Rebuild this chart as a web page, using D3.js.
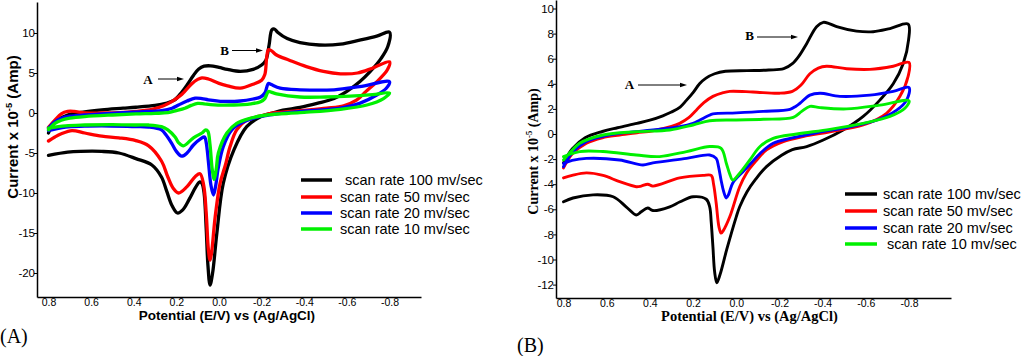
<!DOCTYPE html>
<html><head><meta charset="utf-8">
<script src="https://cdn.jsdelivr.net/npm/d3@7"></script>
<style>
html,body{margin:0;padding:0;background:#fff;}
svg{display:block;}
.sans{font-family:"Liberation Sans",Arial,sans-serif;}
.serif{font-family:"Liberation Serif","Times New Roman",serif;}
</style></head>
<body>
<svg id="chart" width="1028" height="356"></svg>
<script>
// ---------- data (potential E/V, current x1e-5 A) ----------
const xTicks = [0.8, 0.6, 0.4, 0.2, 0.0, -0.2, -0.4, -0.6, -0.8];
const yTicksA = [10, 5, 0, -5, -10, -15, -20];
const yTicksB = [10, 8, 6, 4, 2, 0, -2, -4, -6, -8, -10, -12];
const seriesNames = ["scan rate 100 mv/sec", "scan rate 50 mv/sec", "scan rate 20 mv/sec", "scan rate 10 mv/sec"];
const seriesColors = ["#000000", "#ff0000", "#0000ff", "#00f000"];

// Panel (A)
const aBlack = [[0.80,-2.5],[0.77,-1.1],[0.71,-0.25],[0.63,0.15],[0.55,0.4],[0.45,0.6],[0.39,0.72],[0.30,0.95],[0.25,1.2],[0.21,1.6],[0.175,2.6],[0.145,3.7],[0.12,4.7],[0.095,5.5],[0.07,5.85],[0.04,5.9],[0.0,5.7],[-0.04,5.45],[-0.10,5.2],[-0.16,5.45],[-0.20,6.0],[-0.22,6.6],[-0.235,8.5],[-0.248,10.4],[-0.26,10.5],[-0.275,10.1],[-0.32,9.3],[-0.38,8.8],[-0.47,8.5],[-0.57,8.6],[-0.66,9.1],[-0.74,9.6],[-0.80,10.1],
  [-0.792,8.3],[-0.76,6.8],[-0.71,5.2],[-0.66,3.9],[-0.60,2.7],[-0.54,1.8],[-0.46,1.2],[-0.38,0.7],[-0.30,0.35],[-0.25,0.0],[-0.20,-0.4],[-0.13,-1.7],[-0.07,-4.6],[-0.02,-8.8],[0.01,-15],[0.03,-20],[0.042,-21.5],[0.052,-19],[0.06,-14.5],[0.07,-10],[0.08,-8.8],[0.09,-8.6],[0.11,-9.3],[0.14,-10.8],[0.17,-12.1],[0.195,-12.5],[0.22,-11.6],[0.245,-9.8],[0.27,-8.0],[0.315,-6.5],[0.39,-5.7],[0.47,-5.0],[0.55,-4.8],[0.65,-4.8],[0.71,-4.9],[0.80,-5.3]];
const aRed = [[0.80,-1.8],[0.77,-0.9],[0.74,-0.1],[0.71,0.2],[0.68,0.2],[0.63,0.0],[0.55,0.0],[0.47,0.05],[0.39,0.2],[0.315,0.45],[0.26,0.9],[0.22,1.45],[0.175,2.3],[0.13,3.6],[0.10,4.2],[0.08,4.4],[0.05,4.25],[0.0,3.7],[-0.04,3.4],[-0.10,3.1],[-0.16,3.6],[-0.20,4.1],[-0.215,4.8],[-0.224,7.0],[-0.232,7.9],[-0.245,7.8],[-0.27,7.25],[-0.33,6.6],[-0.41,5.8],[-0.49,5.2],[-0.57,4.9],[-0.65,5.0],[-0.72,5.6],[-0.80,6.4],
  [-0.79,5.4],[-0.74,3.9],[-0.69,2.7],[-0.645,1.6],[-0.585,0.9],[-0.505,0.6],[-0.38,0.3],[-0.255,0.0],[-0.19,-0.4],[-0.13,-0.9],[-0.083,-2.1],[-0.052,-4.2],[-0.03,-6.5],[-0.005,-8.8],[0.018,-13],[0.035,-17.5],[0.042,-18.4],[0.05,-17],[0.06,-12.5],[0.072,-9],[0.089,-7.6],[0.11,-7.9],[0.15,-9.2],[0.19,-10.0],[0.215,-9.4],[0.24,-8.0],[0.27,-6.0],[0.33,-4.1],[0.39,-3.45],[0.47,-3.1],[0.55,-2.9],[0.63,-2.5],[0.69,-2.2],[0.74,-2.6],[0.77,-3.0],[0.80,-3.5]];
const aBlue = [[0.80,-1.9],[0.77,-1.1],[0.74,-0.66],[0.70,-0.4],[0.63,-0.25],[0.55,-0.1],[0.47,0.0],[0.37,0.15],[0.27,0.3],[0.22,0.6],[0.19,1.0],[0.15,1.5],[0.112,1.85],[0.08,1.8],[0.05,1.65],[-0.02,1.45],[-0.10,1.5],[-0.16,1.75],[-0.195,2.0],[-0.215,2.5],[-0.232,3.7],[-0.245,3.55],[-0.287,3.1],[-0.38,2.9],[-0.54,2.9],[-0.66,3.3],[-0.80,3.9],
  [-0.785,3.1],[-0.74,2.25],[-0.66,1.2],[-0.57,0.6],[-0.43,0.3],[-0.27,-0.12],[-0.19,-0.46],[-0.115,-1.1],[-0.06,-2.1],[-0.02,-4.2],[0.005,-7.1],[0.015,-9],[0.026,-10.25],[0.038,-9],[0.05,-6],[0.06,-3.7],[0.068,-3.0],[0.085,-3.2],[0.12,-4.0],[0.15,-5.0],[0.175,-5.4],[0.20,-4.8],[0.222,-3.8],[0.25,-2.7],[0.27,-2.1],[0.33,-1.75],[0.394,-1.7],[0.55,-1.6],[0.63,-1.65],[0.72,-1.75],[0.80,-2.2]];
const aGreen = [[0.80,-2.1],[0.77,-1.3],[0.74,-0.9],[0.70,-0.65],[0.63,-0.45],[0.50,-0.25],[0.39,-0.12],[0.30,-0.05],[0.24,0.04],[0.20,0.3],[0.16,0.6],[0.13,0.95],[0.10,1.2],[0.07,1.15],[0.04,1.05],[-0.07,1.0],[-0.15,1.15],[-0.195,1.4],[-0.215,1.8],[-0.232,2.7],[-0.245,2.6],[-0.27,2.4],[-0.38,2.0],[-0.50,2.0],[-0.615,2.1],[-0.72,2.3],[-0.80,2.5],
  [-0.772,1.8],[-0.694,1.0],[-0.57,0.46],[-0.38,0.04],[-0.224,-0.25],[-0.146,-0.66],[-0.083,-1.3],[-0.037,-2.5],[0.003,-5.0],[0.012,-6.8],[0.022,-8.3],[0.032,-7],[0.042,-4],[0.052,-2.3],[0.062,-2.1],[0.08,-2.5],[0.12,-3.1],[0.167,-4.1],[0.19,-3.7],[0.206,-3.0],[0.24,-2.1],[0.27,-1.7],[0.33,-1.5],[0.394,-1.5],[0.50,-1.45],[0.63,-1.5],[0.72,-1.6],[0.80,-1.9]];

// Panel (B)
const bBlack = [[0.80,-2.3],[0.76,-1.2],[0.70,-0.3],[0.62,0.2],[0.55,0.5],[0.46,0.85],[0.40,1.1],[0.34,1.45],[0.30,1.75],[0.26,2.15],[0.23,2.7],[0.20,3.3],[0.17,4.0],[0.14,4.45],[0.10,4.8],[0.05,5.0],[-0.05,5.05],[-0.15,5.1],[-0.22,5.2],[-0.26,5.6],[-0.29,6.2],[-0.326,7.2],[-0.372,8.55],[-0.403,8.9],[-0.43,8.8],[-0.465,8.55],[-0.557,8.2],[-0.634,8.15],[-0.712,8.4],[-0.796,8.75],
  [-0.798,7.5],[-0.773,5.6],[-0.727,4.0],[-0.665,2.7],[-0.588,1.4],[-0.495,0.32],[-0.403,-0.48],[-0.326,-1.0],[-0.26,-1.25],[-0.21,-1.7],[-0.14,-2.6],[-0.09,-3.6],[-0.05,-4.6],[-0.016,-5.8],[0.0,-6.6],[0.044,-9.2],[0.075,-11.2],[0.09,-11.85],[0.10,-11],[0.108,-9.0],[0.116,-7],[0.123,-5.8],[0.139,-5.2],[0.20,-5.0],[0.26,-5.4],[0.308,-5.8],[0.386,-6.1],[0.41,-5.9],[0.44,-6.2],[0.463,-6.45],[0.51,-5.8],[0.57,-5.0],[0.663,-4.85],[0.756,-5.1],[0.80,-5.4]];
const bRed = [[0.80,-2.7],[0.76,-1.6],[0.694,-0.74],[0.62,-0.3],[0.54,-0.08],[0.46,0.1],[0.386,0.26],[0.30,0.6],[0.262,0.85],[0.22,1.3],[0.185,1.9],[0.15,2.5],[0.108,3.0],[0.06,3.3],[0.03,3.4],[-0.077,3.35],[-0.20,3.25],[-0.26,3.4],[-0.30,3.9],[-0.341,4.8],[-0.38,5.25],[-0.418,5.4],[-0.511,5.2],[-0.619,5.15],[-0.727,5.4],[-0.80,5.7],
  [-0.796,4.6],[-0.758,3.0],[-0.696,1.65],[-0.588,0.72],[-0.434,0.18],[-0.31,-0.2],[-0.218,-0.6],[-0.14,-1.27],[-0.094,-2.1],[-0.048,-3.1],[-0.016,-4.2],[0.03,-6.6],[0.06,-7.7],[0.07,-7.9],[0.08,-7.4],[0.093,-5.5],[0.105,-4.0],[0.116,-3.3],[0.154,-3.3],[0.262,-3.5],[0.386,-4.15],[0.41,-4.0],[0.44,-4.15],[0.463,-4.2],[0.54,-3.8],[0.617,-3.3],[0.694,-3.1],[0.76,-3.3],[0.80,-3.5]];
const bBlue = [[0.80,-2.6],[0.76,-1.5],[0.694,-0.6],[0.62,-0.2],[0.54,0.05],[0.386,0.32],[0.262,0.58],[0.20,0.85],[0.17,1.1],[0.13,1.45],[0.108,1.6],[0.0,1.68],[-0.125,1.8],[-0.249,1.97],[-0.275,2.2],[-0.295,2.45],[-0.341,3.1],[-0.388,3.25],[-0.48,3.0],[-0.619,3.1],[-0.727,3.4],[-0.80,3.7],
  [-0.789,2.7],[-0.743,1.9],[-0.65,1.1],[-0.526,0.58],[-0.372,0.1],[-0.249,-0.35],[-0.171,-0.74],[-0.11,-1.55],[-0.07,-2.3],[-0.031,-3.0],[0.016,-3.9],[0.035,-4.8],[0.046,-5.1],[0.058,-4.6],[0.07,-3.7],[0.082,-2.6],[0.093,-1.94],[0.123,-1.67],[0.23,-1.94],[0.386,-2.3],[0.432,-2.47],[0.54,-2.07],[0.694,-1.94],[0.76,-2.1],[0.80,-2.35]];
const bGreen = [[0.80,-2.07],[0.76,-1.3],[0.725,-0.74],[0.617,-0.08],[0.463,0.18],[0.308,0.32],[0.20,0.72],[0.123,1.06],[0.0,1.12],[-0.125,1.17],[-0.264,1.33],[-0.303,1.8],[-0.341,2.2],[-0.388,2.1],[-0.511,2.0],[-0.665,2.3],[-0.80,2.65],
  [-0.781,2.05],[-0.712,1.4],[-0.588,0.85],[-0.434,0.37],[-0.28,0.0],[-0.171,-0.35],[-0.11,-1.0],[-0.063,-2.07],[-0.017,-3.1],[0.016,-3.67],[0.03,-3.2],[0.046,-2.33],[0.07,-1.14],[0.123,-1.0],[0.23,-1.4],[0.355,-1.8],[0.463,-1.67],[0.617,-1.4],[0.725,-1.4],[0.80,-1.8]];

// ---------- drawing ----------
const svg = d3.select("#chart");
const fmtX = d => d.toFixed(1);
const fmtY = d => String(d);

function panel(cfg) {
  const g = svg.append("g");
  const x = d3.scaleLinear().domain([0.8, -0.8]).range(cfg.xr);
  const y = d3.scaleLinear().domain([0, 10]).range(cfg.yr);
  const xAx = x.copy().domain([x.invert(cfg.axX[0]), x.invert(cfg.axX[1])]).range(cfg.axX);
  const yAx = y.copy().domain([y.invert(cfg.axY[0]), y.invert(cfg.axY[1])]).range(cfg.axY);

  // curves
  const line = d3.line().x(d => x(d[0])).y(d => y(d[1])).curve(d3.curveCatmullRom.alpha(0.5));
  cfg.series.forEach((s, i) => {
    g.append("path").attr("d", line(s)).attr("fill", "none")
      .attr("stroke", seriesColors[i]).attr("stroke-width", cfg.lw)
      .attr("stroke-linejoin", "round").attr("stroke-linecap", "round");
  });

  // axes
  const gx = g.append("g").attr("transform", `translate(0,${cfg.axY[0]})`)
    .call(d3.axisBottom(xAx).tickValues(xTicks).tickFormat(fmtX).tickSize(0).tickPadding(1.5));
  gx.selectAll("text").attr("class", "sans").attr("font-size", 10.5).attr("fill", "#000");
  const gy = g.append("g").attr("transform", `translate(${cfg.axX[0]},0)`)
    .call(d3.axisLeft(yAx).tickValues(cfg.yTicks).tickFormat(fmtY).tickSizeInner(3).tickSizeOuter(0).tickPadding(-1));
  gy.selectAll("text").attr("class", "sans").attr("font-size", 11.5).attr("fill", "#000");
  [gx, gy].forEach(a => {
    a.select(".domain").attr("stroke", "#000").attr("stroke-width", 1.5);
    a.attr("font-family", null);
  });

  // axis titles
  g.append("text").attr("class", cfg.tfont).attr("font-weight", "bold").attr("font-size", cfg.xtSize)
    .attr("text-anchor", "middle").attr("x", cfg.xt[0]).attr("y", cfg.xt[1])
    .text("Potential (E/V) vs (Ag/AgCl)");
  const yt = g.append("text").attr("class", cfg.tfont).attr("font-weight", "bold").attr("font-size", cfg.ytSize)
    .attr("text-anchor", "middle").attr("transform", `translate(${cfg.yt[0]},${cfg.yt[1]}) rotate(-90)`);
  yt.append("tspan").text("Current  x 10");
  yt.append("tspan").attr("dy", -cfg.ytSize * 0.4).attr("font-size", cfg.ytSize * 0.62).text("-5");
  yt.append("tspan").attr("dy", cfg.ytSize * 0.4).text(" (Amp)");

  // legend
  const lg = g.append("g");
  seriesNames.forEach((n, i) => {
    const ly = cfg.leg.y[i];
    lg.append("line").attr("x1", cfg.leg.x1).attr("x2", cfg.leg.x2).attr("y1", ly).attr("y2", ly)
      .attr("stroke", seriesColors[i]).attr("stroke-width", 3.5);
    lg.append("text").attr("class", "sans").attr("font-size", 14.5)
      .attr("x", cfg.leg.tx + (cfg.leg.pad[i] || 0)).attr("y", ly + 5).text(n);
  });

  // peak annotations
  cfg.notes.forEach(nt => {
    g.append("text").attr("class", "serif").attr("font-weight", "bold").attr("font-size", 13)
      .attr("text-anchor", "middle").attr("x", nt.lx).attr("y", nt.ly + 4.5).text(nt.t);
    g.append("line").attr("x1", nt.a0).attr("x2", nt.a1 - 6).attr("y1", nt.ay).attr("y2", nt.ay)
      .attr("stroke", "#000").attr("stroke-width", 1);
    g.append("path").attr("d", `M${nt.a1},${nt.ay}L${nt.a1 - 7},${nt.ay - 2.3}L${nt.a1 - 7},${nt.ay + 2.3}Z`).attr("fill", "#000");
  });

  // panel label
  g.append("text").attr("class", "serif").attr("font-size", 20).attr("x", cfg.pl[0]).attr("y", cfg.pl[1]).text(cfg.label);
}

panel({
  xr: [48.5, 389.5], yr: [113, 33], axX: [37, 421], axY: [297, 2],
  yTicks: yTicksA, series: [aBlack, aRed, aBlue, aGreen], lw: 3.3,
  tfont: "sans", xtSize: 13.5, xt: [227, 320], ytSize: 15, yt: [17.5, 127],
  leg: { x1: 301, x2: 332, tx: 340, y: [180, 197, 213, 229], pad: [5, 0, 0, 0] },
  notes: [{ t: "A", lx: 148, ly: 79, a0: 158, a1: 184, ay: 79 },
          { t: "B", lx: 224.5, ly: 50.5, a0: 232, a1: 263, ay: 50.5 }],
  pl: [0, 343], label: "(A)"
});
panel({
  xr: [563.5, 909], yr: [134, 8.5], axX: [556, 951], axY: [298, 0],
  yTicks: yTicksB, series: [bBlack, bRed, bBlue, bGreen], lw: 2.9,
  tfont: "serif", xtSize: 14.5, xt: [749.5, 321], ytSize: 14, yt: [538, 151.5],
  leg: { x1: 845, x2: 877, tx: 883, y: [194, 211, 228, 244], pad: [0, 0, 0, 4] },
  notes: [{ t: "A", lx: 629.5, ly: 84.5, a0: 638, a1: 687, ay: 85 },
          { t: "B", lx: 749.5, ly: 35, a0: 757, a1: 798, ay: 37 }],
  pl: [517, 352], label: "(B)"
});
</script>
</body></html>
